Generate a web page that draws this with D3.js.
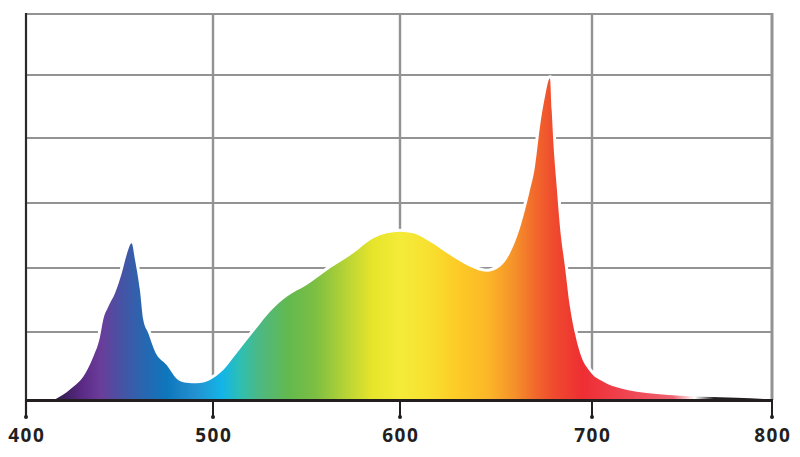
<!DOCTYPE html>
<html>
	<head>
		<script src="https://d3js.org/d3.v7.min.js"></script>
		<style>
			html, body {
				margin: 0;
				padding: 0;
				background: #fff;
			}
			.tick-label {
				font-family: "Open Sans", sans-serif;
				font-weight: 700;
				font-size: 19px;
				letter-spacing: 1.5px;
				fill: #231f20;
			}
		</style>
		<title>Spectrum</title>
	</head>
	<body>
		<div id="chart"></div>
		<script>
			// wavelength (nm) and relative intensity (grid units)
			const wavelengths = [
				415, 418.2, 425.3, 430.6, 436, 439.6, 441.3, 444, 447.6, 451.2,
				453.8, 456.5, 458.3, 460.9, 462.7, 465.4, 469, 475.2, 481.4, 485.9,
				491.3, 498.4, 505.5, 512.7, 522.5, 530.5, 539.4, 550.1, 562.6, 575,
				585.7, 592.9, 600, 606.9, 615.6, 626, 636.5, 645.1, 652.1, 657.3,
				661.6, 665.1, 667.7, 670.3, 671.2, 672.9, 675.5, 678.1, 679, 679.9,
				681.6, 683.3, 685.9, 688.5, 691.1, 693.8, 699, 706.3, 715.6, 724.8,
				735.9, 748.9, 761.7, 780.4, 800
			];
			const intensity = [
				0, 0.05, 0.196, 0.343, 0.637, 0.931, 1.19, 1.395, 1.605, 1.917,
				2.2, 2.38, 2.123, 1.656, 1.19, 0.98, 0.71, 0.515, 0.294, 0.254,
				0.245, 0.294, 0.441, 0.687, 1.03, 1.317, 1.55, 1.734, 1.995, 2.226,
				2.457, 2.534, 2.558, 2.534, 2.405, 2.2, 2.02, 1.942, 2.02, 2.226,
				2.534, 2.89, 3.2, 3.56, 3.765, 4.18, 4.656, 4.948, 4.444, 3.918,
				3.25, 2.635, 2.02, 1.395, 0.98, 0.687, 0.416, 0.269, 0.172, 0.122,
				0.088, 0.063, 0.049, 0.034, 0.008
			];

			const xTicks = [400, 500, 600, 700, 800];
			const yGrid = [1, 2, 3, 4, 5, 6];

			// colour of the spectrum at each wavelength
			const stopWavelengths = [
				415, 430, 440, 450, 460, 475, 490, 505, 515, 525, 540, 555, 570,
				585, 600, 615, 630, 645, 660, 670, 680, 695, 720, 745, 757, 768
			];
			const stopColors = [
				"#2e1a47", "#5b2a86", "#6a3d9a", "#4a51a3", "#2f62ad", "#0e76bc",
				"#2390cf", "#13b5e8", "#2fbfb0", "#4db882", "#62b94f", "#7dbf42",
				"#b3d236", "#e6e42b", "#f4eb38", "#f8e030", "#fdcb26", "#fbb828",
				"#f5902a", "#f26a2b", "#ef4b2e", "#ee2e33", "#ef4552", "#f06370",
				"#ffffff", "#231f20"
			];

			const width = 800,
				height = 457;

			// the picture's grid is not quite even, so both scales are piecewise
			const x = d3.scaleLinear()
				.domain(xTicks)
				.range([26, 213, 400, 592, 772]);
			const y = d3.scaleLinear()
				.domain([0, 1, 2, 3, 4, 5, 6])
				.range([400, 332, 268, 203, 138, 75, 14]);

			const data = wavelengths.map((w, i) => ({ w: w, v: intensity[i] }));

			const svg = d3.select("#chart")
				.append("svg")
				.attr("width", width)
				.attr("height", height);

			// gradient across the visible spectrum
			const x0 = x(400), x1 = x(800);
			const grad = svg.append("defs")
				.append("linearGradient")
				.attr("id", "spectrum")
				.attr("gradientUnits", "userSpaceOnUse")
				.attr("x1", x0).attr("x2", x1)
				.attr("y1", 0).attr("y2", 0);
			grad.selectAll("stop")
				.data(stopWavelengths)
				.join("stop")
				.attr("offset", (d) => (x(d) - x0) / (x1 - x0))
				.attr("stop-color", (d, i) => stopColors[i]);

			// grid lines
			svg.append("g")
				.selectAll("line")
				.data(yGrid)
				.join("line")
				.attr("x1", x(400)).attr("x2", x(800))
				.attr("y1", (d) => y(d)).attr("y2", (d) => y(d))
				.attr("stroke", "#939393")
				.attr("stroke-width", 2.2);

			svg.append("g")
				.selectAll("line")
				.data(xTicks.slice(1))
				.join("line")
				.attr("x1", (d) => x(d)).attr("x2", (d) => x(d))
				.attr("y1", y(6) - 1).attr("y2", y(0))
				.attr("stroke", "#939393")
				.attr("stroke-width", (d) => (d === 800 ? 3 : 2.4));

			// white halo round the curve, then the fill on top
			const line = d3.line()
				.x((d) => x(d.w))
				.y((d) => y(d.v))
				.curve(d3.curveMonotoneX);
			const area = d3.area()
				.x((d) => x(d.w))
				.y0(y(0))
				.y1((d) => y(d.v))
				.curve(d3.curveMonotoneX);

			svg.append("path")
				.datum(data.filter((d) => d.w < 745))
				.attr("d", line)
				.attr("fill", "none")
				.attr("stroke", "#fff")
				.attr("stroke-width", 6)
				.attr("stroke-linejoin", "round");

			svg.append("path")
				.datum(data)
				.attr("d", area)
				.attr("fill", "url(#spectrum)");

			// axes
			svg.append("line")
				.attr("x1", x(400)).attr("x2", x(400))
				.attr("y1", y(6) - 1).attr("y2", y(0) + 17)
				.attr("stroke", "#2a2a2a")
				.attr("stroke-width", 2.2);

			svg.append("line")
				.attr("x1", x(400) - 1).attr("x2", x(800) + 1)
				.attr("y1", y(0) + 0.5).attr("y2", y(0) + 0.5)
				.attr("stroke", "#231f20")
				.attr("stroke-width", 3);

			const ticks = svg.append("g")
				.selectAll("g")
				.data(xTicks)
				.join("g")
				.attr("transform", (d) => `translate(${x(d)},0)`);

			ticks.append("line")
				.attr("y1", y(0)).attr("y2", y(0) + 17)
				.attr("stroke", "#231f20")
				.attr("stroke-width", 2);

			ticks.append("circle")
				.attr("cy", y(0) + 17)
				.attr("r", 2)
				.attr("fill", "#231f20");

			ticks.append("text")
				.attr("class", "tick-label")
				.attr("x", 0.75)
				.attr("y", 442)
				.attr("text-anchor", "middle")
				.text((d) => d);
		</script>
	</body>
</html>
